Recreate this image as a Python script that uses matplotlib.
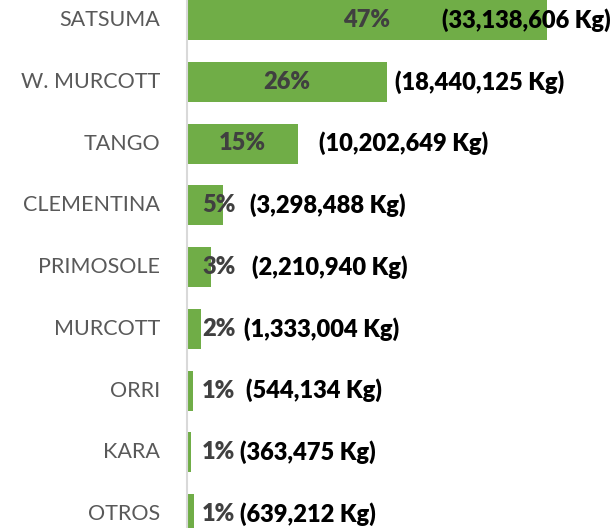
import numpy as np
import matplotlib.pyplot as plt

# Datos: producción por variedad
variedades = ["SATSUMA", "W. MURCOTT", "TANGO", "CLEMENTINA", "PRIMOSOLE",
              "MURCOTT", "ORRI", "KARA", "OTROS"]
kilos = [33138606, 18440125, 10202649, 3298488, 2210940,
         1333004, 544134, 363475, 639212]
porcentajes = ["47%", "26%", "15%", "5%", "3%", "2%", "1%", "1%", "1%"]

# Posición horizontal (px desde el eje) donde empieza la etiqueta de Kg
kg_label_px = [255, 208, 132, 63, 65, 57, 59, 53, 53]

plt.rcParams['font.family'] = ['Lato', 'DejaVu Sans']

W, H = 616, 528
fig = plt.figure(figsize=(W / 100, H / 100), dpi=100)
x0 = 187
ax = fig.add_axes([x0 / W, 0, 1 - x0 / W, 1])

px_per_kg = 360 / kilos[0]
xmax = (W - x0) / px_per_kg
paso = 61.75
y = np.arange(len(variedades))

ax.barh(y, kilos, height=40 / paso, color="#70AD47")
ax.set_xlim(0, xmax)
ax.set_ylim((H - 20) / paso, -20 / paso)

for i in range(len(variedades)):
    ancho_px = kilos[i] * px_per_kg
    if ancho_px > 60:
        ax.text(kilos[i] / 2, y[i], porcentajes[i], ha="center", va="center",
                fontsize=17, fontweight="heavy", color="#404040")
    else:
        ax.text(15 / px_per_kg, y[i], porcentajes[i], ha="left", va="center",
                fontsize=17, fontweight="heavy", color="#404040")
    ax.text(kg_label_px[i] / px_per_kg, y[i], f"({kilos[i]:,} Kg)", ha="left",
            va="center", fontsize=17, fontweight="heavy", color="black")
    ax.text(-27 / px_per_kg, y[i], variedades[i], ha="right", va="center",
            fontsize=15.5, color="#595959", clip_on=False)

ax.set_xticks([])
ax.set_yticks([])
for s in ["top", "right", "bottom"]:
    ax.spines[s].set_visible(False)
ax.spines["left"].set_color("#d9d9d9")
ax.spines["left"].set_linewidth(1.5)

fig.savefig("out.png", dpi=100)
